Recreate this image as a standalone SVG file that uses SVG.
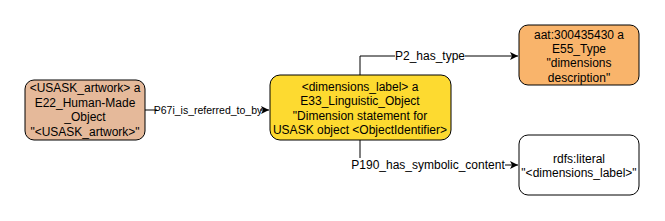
<svg xmlns="http://www.w3.org/2000/svg" width="665" height="221" viewBox="0 0 665 221">
<defs>
<style>
text{font-family:"Liberation Sans",Arial,sans-serif;font-size:12px;fill:#000;text-anchor:middle;dominant-baseline:central}
.small{font-size:10.5px}
.node{stroke:#000;stroke-width:1}
.edge{fill:none;stroke:#000;stroke-width:1}
.lbl{fill:#fff}
</style>
<marker id="arr" markerWidth="10" markerHeight="10" refX="8" refY="4" orient="auto" markerUnits="userSpaceOnUse">
<path d="M0,0 L8,4 L0,8 L2,4 Z" fill="#000"/>
</marker>
</defs>
<rect width="665" height="221" fill="#fff"/>
<g id="connectors">
<path class="edge" d="M145,110 H269" marker-end="url(#arr)"/>
<rect class="lbl" x="157" y="103" width="103" height="14"/>
<text class="small" x="208" y="110">P67i_is_referred_to_by</text>
<path class="edge" d="M360,75 V56 H518" marker-end="url(#arr)"/>
<rect class="lbl" x="395" y="49" width="70" height="14"/>
<text x="430" y="56">P2_has_type</text>
<path class="edge" d="M360,140 V165 H518" marker-end="url(#arr)"/>
<rect class="lbl" x="350" y="158" width="155" height="14"/>
<text x="428" y="165">P190_has_symbolic_content</text>
</g>
<g id="n1">
<rect class="node" x="25" y="80" width="120" height="60" rx="9" fill="#e5b99a"/>
<text x="85" y="88">&lt;USASK_artwork&gt; a</text>
<text x="85" y="103">E22_Human-Made</text>
<text x="85" y="117">_Object</text>
<text x="85" y="132">"&lt;USASK_artwork&gt;"</text>
</g>
<g id="n2">
<rect class="node" x="270" y="75" width="181" height="65" rx="10" fill="#fdda30"/>
<text x="360" y="87">&lt;dimensions_label&gt; a</text>
<text x="360" y="101">E33_Linguistic_Object</text>
<text x="360" y="116">"Dimension statement for</text>
<text x="360" y="130">USASK object &lt;ObjectIdentifier&gt;</text>
</g>
<g id="n3">
<rect class="node" x="519" y="25" width="120" height="60" rx="9" fill="#f9b46b"/>
<text x="579" y="35">aat:300435430 a</text>
<text x="579" y="49">E55_Type</text>
<text x="579" y="63">"dimensions</text>
<text x="579" y="78">description"</text>
</g>
<g id="n4">
<rect class="node" x="519" y="135" width="120" height="60" rx="9" fill="#fff"/>
<text x="579" y="159">rdfs:literal</text>
<text x="579" y="173">"&lt;dimensions_label&gt;"</text>
</g>
</svg>
